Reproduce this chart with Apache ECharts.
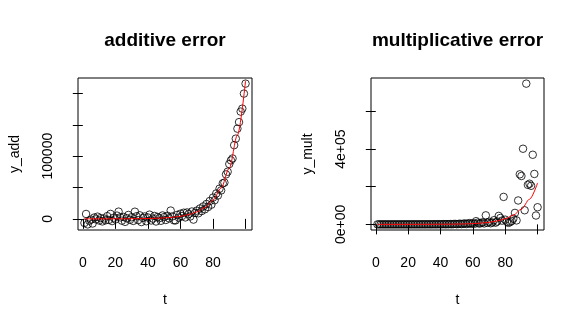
<!DOCTYPE html>
<html>
<head>
<meta charset="utf-8">
<script src="https://cdn.jsdelivr.net/npm/echarts@6/dist/echarts.min.js"></script>
<style>
html, body { margin: 0; padding: 0; background: #fff; }
#chart { width: 585px; height: 328px; }
</style>
</head>
<body>
<div id="chart"></div>
<script>
// time index
const t = [1,2,3,4,5,6,7,8,9,10,11,12,13,14,15,16,17,18,19,20,
  21,22,23,24,25,26,27,28,29,30,31,32,33,34,35,36,37,38,39,40,
  41,42,43,44,45,46,47,48,49,50,51,52,53,54,55,56,57,58,59,60,
  61,62,63,64,65,66,67,68,69,70,71,72,73,74,75,76,77,78,79,80,
  81,82,83,84,85,86,87,88,89,90,91,92,93,94,95,96,97,98,99,100];

// series with additive noise
const yAdd = [-6500,7800,-8800,-3000,-1200,-7400,2100,-800,3500,-2600,
  1200,-4100,600,-2300,4300,-1700,7900,-3600,1800,-900,
  5200,11500,2400,-2900,3100,-4800,900,6200,-1500,2600,
  -3300,11400,4100,-2000,5600,-5100,1400,3800,-3800,2200,
  6700,-2600,400,4600,-4200,3000,1000,-3100,5400,2800,
  -1800,4900,700,13200,3900,-2400,-2500,6300,1900,8200,
  4600,9800,2300,10200,7600,3800,11700,-1200,9400,13100,
  8900,16600,12400,19800,15200,23700,18900,28400,22600,33900,
  29700,40500,37200,48100,45300,56600,57800,70900,75100,87400,
  93200,96300,117500,127900,143800,154200,171000,175700,199700,215600];

// series with multiplicative noise
const yMult = [14,9,21,13,30,11,38,19,47,16,
  52,29,81,25,63,96,41,120,54,88,
  150,62,210,97,134,260,118,190,410,150,
  330,240,520,180,460,710,290,560,980,420,
  760,1250,530,1100,870,1800,640,1500,2600,980,
  2100,3700,1400,2900,5100,1900,4300,6800,2500,6000,
  3000,17000,9000,4000,7000,11000,5000,48000,8000,14000,
  6000,10000,22000,9000,15000,45000,34000,20000,146000,25000,
  14000,8000,12000,18000,30000,61000,21000,127000,266000,257000,
  402000,75000,748000,210000,216000,205000,370000,268000,47000,91000];

// underlying exponential trend
const trendT = [1,5,10,15,20,25,30,35,40,45,50,55,60,65,70,75,80,85,90,95,100];
const trendV = [11,16.5,27,45,74,122,201,331,546,900,1484,2447,4034,6651,
  10966,18080,29810,49148,81031,133597,220265];

// tick positions and labelled ticks
const xTicks = [0,20,40,60,80,100];
const xLabels = [0,20,40,60,80];
const addTicks = [0,50000,100000,150000,200000];
const addLabels = [0,100000];
const multTicks = [0,200000,400000,600000];
const multLabels = [0,400000];

const FONT = 'Liberation Sans, Arial, Helvetica, sans-serif';

function padRange(arr) {
  const lo = Math.min(...arr), hi = Math.max(...arr);
  const p = 0.04 * (hi - lo);
  return [lo - p, hi + p];
}
function sci(v) {
  if (v === 0) return '0e+00';
  const e = Math.floor(Math.log10(Math.abs(v)));
  const m = Math.round(v / Math.pow(10, e));
  return m + 'e' + (e < 0 ? '-' : '+') + String(Math.abs(e)).padStart(2, '0');
}

const xr = padRange(t);
const ar = padRange(yAdd);
const mr = padRange(yMult);

function xAxis(gi) {
  return {
    type: 'value', gridIndex: gi, min: xr[0], max: xr[1],
    name: 't', nameLocation: 'middle', nameGap: 63,
    nameTextStyle: { fontFamily: FONT, fontSize: 14, color: '#000' },
    axisLine: { show: false },
    axisTick: { show: true, length: 10, customValues: xTicks, lineStyle: { color: '#000' } },
    axisLabel: { customValues: xLabels, margin: 26, fontFamily: FONT, fontSize: 14, color: '#000' },
    splitLine: { show: false }
  };
}
function yAxis(gi, range, ticks, labels, name, fmt) {
  return {
    type: 'value', gridIndex: gi, min: range[0], max: range[1],
    name: name, nameLocation: 'middle', nameGap: 56, nameRotate: 90,
    nameTextStyle: { fontFamily: FONT, fontSize: 14, color: '#000' },
    axisLine: { show: false },
    axisTick: { show: true, length: 10, customValues: ticks, lineStyle: { color: '#000' } },
    axisLabel: { customValues: labels, rotate: 90, margin: 23, fontFamily: FONT, fontSize: 14, color: '#000', formatter: fmt },
    splitLine: { show: false }
  };
}

const circle = { color: 'transparent', borderColor: '#000', borderWidth: 1 };

const option = {
  animation: false,
  backgroundColor: '#fff',
  title: [
    { text: 'additive error', left: 160, top: 26, textAlign: 'center',
      textStyle: { fontFamily: FONT, fontSize: 19, fontWeight: 'bold', color: '#000' } },
    { text: 'multiplicative error', left: 452.5, top: 26, textAlign: 'center',
      textStyle: { fontFamily: FONT, fontSize: 19, fontWeight: 'bold', color: '#000' } }
  ],
  grid: [
    { left: 78, top: 78, width: 174, height: 152, show: true, borderColor: '#000', borderWidth: 1, backgroundColor: 'transparent' },
    { left: 371, top: 78, width: 173, height: 152, show: true, borderColor: '#000', borderWidth: 1, backgroundColor: 'transparent' }
  ],
  xAxis: [xAxis(0), xAxis(1)],
  yAxis: [
    yAxis(0, ar, addTicks, addLabels, 'y_add', v => String(v)),
    yAxis(1, mr, multTicks, multLabels, 'y_mult', sci)
  ],
  series: [
    { type: 'scatter', xAxisIndex: 0, yAxisIndex: 0, symbol: 'circle', symbolSize: 7.5,
      itemStyle: circle, data: t.map((x, i) => [x, yAdd[i]]) },
    { type: 'line', xAxisIndex: 0, yAxisIndex: 0, showSymbol: false, smooth: 0.3, smoothMonotone: 'x',
      lineStyle: { color: '#ff0000', width: 1 }, data: trendT.map((x, i) => [x, trendV[i]]) },
    { type: 'scatter', xAxisIndex: 1, yAxisIndex: 1, symbol: 'circle', symbolSize: 7.5,
      itemStyle: circle, data: t.map((x, i) => [x, yMult[i]]) },
    { type: 'line', xAxisIndex: 1, yAxisIndex: 1, showSymbol: false, smooth: 0.3, smoothMonotone: 'x',
      lineStyle: { color: '#ff0000', width: 1 }, data: trendT.map((x, i) => [x, trendV[i]]) }
  ]
};

echarts.init(document.getElementById('chart'), null, { renderer: 'canvas' }).setOption(option);
</script>
</body>
</html>
